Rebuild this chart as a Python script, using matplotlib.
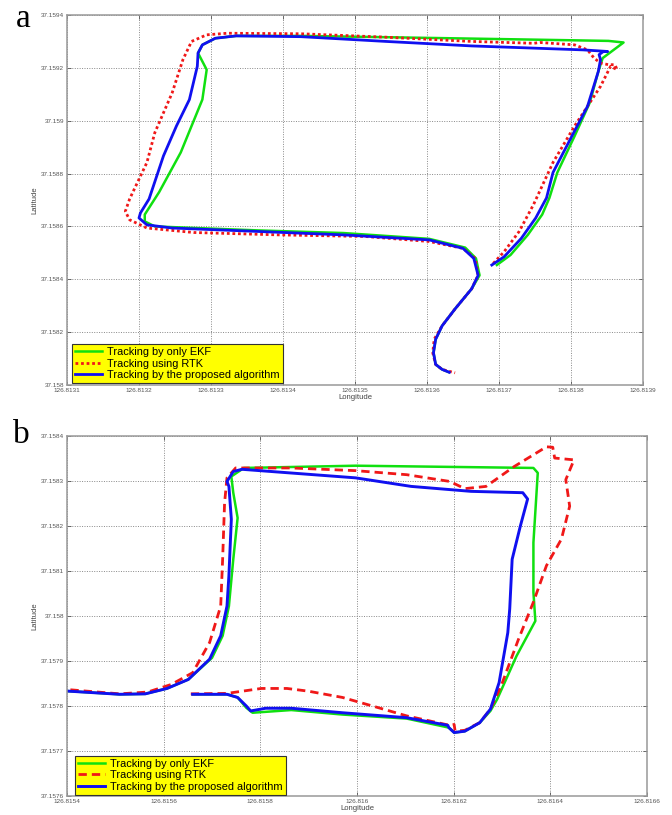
import numpy as np
import matplotlib
matplotlib.use("Agg")
import matplotlib.pyplot as plt
from matplotlib.ticker import FixedLocator, FixedFormatter

# ---- panel a : test drive 1 ----
a_ekf_lon = [126.813697, 126.813716, 126.81374, 126.81376, 126.81377, 126.813781,
             126.813805, 126.813826, 126.813838, 126.813844, 126.813873, 126.813852,
             126.813722, 126.813543, 126.813425, 126.813335, 126.813306, 126.813288,
             126.813282, 126.813294, 126.813288, 126.813273, 126.813258, 126.813228,
             126.813208, 126.813208, 126.813222, 126.813365, 126.813484, 126.813603,
             126.813653, 126.813668, 126.813673, 126.813662, 126.813639, 126.813621,
             126.813612, 126.813609, 126.813612, 126.813621, 126.81363]
a_ekf_lat = [37.158454, 37.158492, 37.158568, 37.158645, 37.158708, 37.158804,
             37.158942, 37.159068, 37.159187, 37.159237, 37.159296, 37.159302,
             37.159308, 37.159316, 37.159321, 37.159321, 37.159312, 37.159287,
             37.159256, 37.159193, 37.15908, 37.15898, 37.15888, 37.15873,
             37.158645, 37.158619, 37.1586, 37.158585, 37.158575, 37.158553,
             37.15852, 37.158479, 37.158415, 37.158364, 37.158288, 37.158224,
             37.158173, 37.158122, 37.158078, 37.158059, 37.158049]

a_rtk_lon = [126.813692, 126.813707, 126.813728, 126.813748, 126.813775, 126.813805,
             126.813841, 126.813855, 126.813864, 126.813861, 126.813852, 126.813841,
             126.813832, 126.813823, 126.813805, 126.813757, 126.813748, 126.813662,
             126.813543, 126.813425, 126.813323, 126.813294, 126.813273, 126.813261,
             126.813246, 126.813222, 126.813211, 126.813187, 126.813181, 126.813187,
             126.813211, 126.813276, 126.813395, 126.813514, 126.813603, 126.81365,
             126.813667, 126.813671, 126.813662, 126.813639, 126.813621, 126.81361,
             126.813608, 126.813612, 126.813621, 126.813639]
a_rtk_lat = [37.15846, 37.158504, 37.158581, 37.158683, 37.158842, 37.15898,
             37.15913, 37.159206, 37.159193, 37.159212, 37.159212, 37.159218,
             37.159237, 37.159268, 37.159287, 37.159296, 37.159293, 37.1593,
             37.159316, 37.159329, 37.159331, 37.159325, 37.1593, 37.159231,
             37.159105, 37.158955, 37.158842, 37.158704, 37.158657, 37.158625,
             37.158594, 37.158577, 37.158568, 37.158562, 37.158543, 37.158517,
             37.158479, 37.158415, 37.158364, 37.158288, 37.158224, 37.158173,
             37.158122, 37.158078, 37.158059, 37.158046]

a_prop_lon = [126.81369, 126.813707, 126.813731, 126.813751, 126.813766, 126.813775,
              126.813799, 126.813823, 126.813838, 126.813841, 126.813839, 126.813845,
              126.813851, 126.813817, 126.813662, 126.813543, 126.813425, 126.813335,
              126.813306, 126.813288, 126.813282, 126.813281, 126.81327, 126.813252,
              126.813234, 126.813214, 126.813202, 126.8132, 126.813211, 126.813246,
              126.813365, 126.813484, 126.813603, 126.81365, 126.813665, 126.813671,
              126.813662, 126.813639, 126.813621, 126.813612, 126.813609, 126.813612,
              126.813621, 126.813631]
a_prop_lat = [37.158454, 37.158485, 37.158555, 37.158632, 37.158708, 37.158804,
              37.15893, 37.159055, 37.159187, 37.159231, 37.15925, 37.159262,
              37.159262, 37.159268, 37.159283, 37.1593, 37.159318, 37.159321,
              37.159312, 37.159287, 37.159256, 37.159206, 37.15908, 37.15898,
              37.158867, 37.158704, 37.158651, 37.158632, 37.158606, 37.158594,
              37.158581, 37.158568, 37.158549, 37.158517, 37.158479, 37.158415,
              37.158364, 37.158288, 37.158224, 37.158173, 37.158122, 37.158078,
              37.158059, 37.158048]

a_xticks = [126.8131, 126.8132, 126.8133, 126.8134, 126.8135, 126.8136, 126.8137, 126.8138, 126.8139]
a_xlabels = ["126.8131", "126.8132", "126.8133", "126.8134", "126.8135", "126.8136", "126.8137", "126.8138", "126.8139"]
a_yticks = [37.158, 37.1582, 37.1584, 37.1586, 37.1588, 37.159, 37.1592, 37.1594]
a_ylabels = ["37.158", "37.1582", "37.1584", "37.1586", "37.1588", "37.159", "37.1592", "37.1594"]

# ---- panel b : test drive 2 ----
b_ekf_lon = [126.815403, 126.815509, 126.815562, 126.815607, 126.815651, 126.8157,
             126.815722, 126.815735, 126.815744, 126.815753, 126.815744, 126.81574,
             126.815766, 126.815997, 126.816365, 126.816374, 126.816365, 126.816365,
             126.816369, 126.81633, 126.81629, 126.816276, 126.816254, 126.816223,
             126.816201, 126.81619, 126.816103, 126.81597, 126.815864, 126.815784,
             126.815771, 126.815753, 126.815731, 126.81566]
b_ekf_lat = [37.157833, 37.157826, 37.157827, 37.157839, 37.157859, 37.157907,
             37.157956, 37.158022, 37.158126, 37.158218, 37.158274, 37.15831,
             37.158329, 37.158334, 37.158329, 37.158318, 37.158163, 37.158053,
             37.157989, 37.157911, 37.157815, 37.157789, 37.157763, 37.157744,
             37.157741, 37.157752, 37.157772, 37.157781, 37.157791, 37.157785,
             37.157796, 37.157819, 37.157826, 37.157826]

b_rtk_lon = [126.815407, 126.815509, 126.815567, 126.815616, 126.81566, 126.815695,
             126.815718, 126.815722, 126.815726, 126.815731, 126.815749, 126.815864,
             126.815997, 126.816103, 126.816192, 126.816223, 126.816267, 126.816325,
             126.816392, 126.816405, 126.816409, 126.816449, 126.816432, 126.81644,
             126.816423, 126.816392, 126.816365, 126.816334, 126.816298, 126.816276,
             126.816254, 126.816223, 126.816203, 126.816201, 126.816192, 126.816103,
             126.816032, 126.81597, 126.815899, 126.815855, 126.815802, 126.815731,
             126.815655]
b_rtk_lat = [37.157836, 37.157827, 37.157831, 37.157848, 37.157874, 37.157941,
             37.158022, 37.158126, 37.158251, 37.158307, 37.158329, 37.158329,
             37.158323, 37.158314, 37.158299, 37.158283, 37.158288, 37.158332,
             37.158376, 37.158375, 37.158351, 37.158347, 37.158303, 37.158244,
             37.158171, 37.158112, 37.158031, 37.157948, 37.157844, 37.157793,
             37.157763, 37.157746, 37.157744, 37.157759, 37.157757, 37.157778,
             37.1578, 37.157819, 37.157833, 37.157839, 37.157839, 37.157828,
             37.157827]

b_prop_lon = [126.815403, 126.815509, 126.815562, 126.815607, 126.815651, 126.815695,
              126.815718, 126.815731, 126.815735, 126.81574, 126.815735, 126.815731,
              126.815744, 126.815762, 126.815997, 126.816112, 126.816236, 126.816343,
              126.816353, 126.816338, 126.816321, 126.816316, 126.816312, 126.816294,
              126.816276, 126.816254, 126.816223, 126.816201, 126.81619, 126.816188,
              126.816103, 126.81597, 126.815864, 126.815811, 126.81578, 126.815771,
              126.815753, 126.815731, 126.81566]
b_prop_lat = [37.157833, 37.157826, 37.157827, 37.157839, 37.157859, 37.157904,
              37.157956, 37.158022, 37.15809, 37.158215, 37.158288, 37.158299,
              37.158321, 37.158326, 37.158307, 37.158288, 37.158277, 37.158274,
              37.15826, 37.1582, 37.158126, 37.158016, 37.157963, 37.157852,
              37.157793, 37.157763, 37.157744, 37.157741, 37.157752, 37.157757,
              37.157774, 37.157785, 37.157795, 37.157795, 37.157789, 37.1578,
              37.157819, 37.157826, 37.157826]

b_xticks = [126.8154, 126.8156, 126.8158, 126.816, 126.8162, 126.8164, 126.8166]
b_xlabels = ["126.8154", "126.8156", "126.8158", "126.816", "126.8162", "126.8164", "126.8166"]
b_yticks = [37.1576, 37.1577, 37.1578, 37.1579, 37.158, 37.1581, 37.1582, 37.1583, 37.1584]
b_ylabels = ["37.1576", "37.1577", "37.1578", "37.1579", "37.158", "37.1581", "37.1582", "37.1583", "37.1584"]

series_names = ["Tracking by only EKF", "Tracking using RTK", "Tracking by the proposed algorithm"]

GREEN = "#10e010"
RED = "#f01818"
BLUE = "#1010f0"
TICK_C = "#555555"


def style_axes(ax, xticks, xlabels, yticks, ylabels):
    ax.set_xlim(xticks[0], xticks[-1])
    ax.set_ylim(yticks[0], yticks[-1])
    ax.xaxis.set_major_locator(FixedLocator(xticks))
    ax.xaxis.set_major_formatter(FixedFormatter(xlabels))
    ax.yaxis.set_major_locator(FixedLocator(yticks))
    ax.yaxis.set_major_formatter(FixedFormatter(ylabels))
    ax.tick_params(direction="in", length=3, width=0.6, colors=TICK_C,
                   labelsize=4.6, pad=2, top=True, right=True)
    ax.grid(True, linestyle=(0, (1, 1.5)), color="#888888", linewidth=0.7)
    for sp in ax.spines.values():
        sp.set_color("#999999")
        sp.set_linewidth(1.1)
    ax.set_xlabel("Longitude", fontsize=5.5, color="#444444", labelpad=1)
    ax.set_ylabel("Latitude", fontsize=5.5, color="#444444", labelpad=2)


def add_legend(ax, anchor):
    leg = ax.legend(loc="lower left", bbox_to_anchor=anchor, borderaxespad=0,
                    fontsize=7.9, handlelength=2.4, handletextpad=0.5,
                    labelspacing=0.12, borderpad=0.3, fancybox=False,
                    framealpha=1, facecolor="#ffff00", edgecolor="#333333")
    leg.get_frame().set_linewidth(0.8)
    return leg


plt.rcParams["font.family"] = ["Liberation Sans", "DejaVu Sans"]

fig = plt.figure(figsize=(6.72, 8.15), dpi=100)

ax_a = fig.add_axes([67 / 672, 1 - 385 / 815, 576 / 672, 370 / 815])
ax_a.plot(a_ekf_lon, a_ekf_lat, color=GREEN, lw=1.8, label=series_names[0])
ax_a.plot(a_rtk_lon, a_rtk_lat, color=RED, lw=2.0, linestyle=(0, (1, 1)), label=series_names[1])
ax_a.plot(a_prop_lon, a_prop_lat, color=BLUE, lw=2.0, label=series_names[2])
style_axes(ax_a, a_xticks, a_xlabels, a_yticks, a_ylabels)
add_legend(ax_a, (0.009, 0.005))

ax_b = fig.add_axes([67 / 672, 1 - 796 / 815, 580 / 672, 360 / 815])
ax_b.plot(b_ekf_lon, b_ekf_lat, color=GREEN, lw=1.8, label=series_names[0])
ax_b.plot(b_rtk_lon, b_rtk_lat, color=RED, lw=2.0, linestyle=(0, (3, 1.8)), label=series_names[1])
ax_b.plot(b_prop_lon, b_prop_lat, color=BLUE, lw=2.1, label=series_names[2])
style_axes(ax_b, b_xticks, b_xlabels, b_yticks, b_ylabels)
add_legend(ax_b, (0.014, 0.003))

fig.text(16 / 672, 1 - 27 / 815, "a", fontsize=24, family="Liberation Serif",
         ha="left", va="baseline")
fig.text(13 / 672, 1 - 443 / 815, "b", fontsize=24, family="Liberation Serif",
         ha="left", va="baseline")

fig.savefig("out.png", dpi=100)
